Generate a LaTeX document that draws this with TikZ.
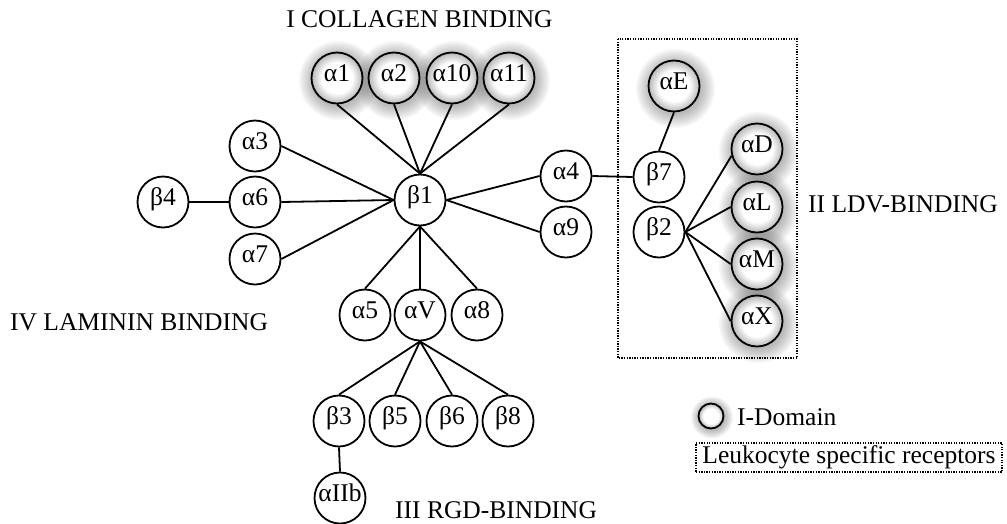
\documentclass[tikz,border=0pt]{standalone}
\usepackage{fontspec}
\setmainfont{Liberation Serif}
\usetikzlibrary{backgrounds}

% soft grey rim inside the I-domain circles
\pgfdeclareradialshading{idomain}{\pgfpoint{0bp}{0bp}}{%
  color(0bp)=(white); color(15bp)=(white); color(25bp)=(black!28); color(50bp)=(black!28)}

\begin{document}
\begin{tikzpicture}[x=1pt,y=-1pt,
  font=\fontsize{25.5}{30}\selectfont,
  integrin/.style={circle,draw,line width=1.8pt,minimum size=51pt,inner sep=0pt,
    fill=white,text height=0.66em,text depth=0pt},
  idom/.style={integrin,shading=idomain},
  link/.style={line width=1.8pt},
  dotbox/.style={line width=1.3pt,dash pattern=on 1.3pt off 1.3pt},
  title/.style={inner sep=0pt,anchor=base west}]
\useasboundingbox (0,0) rectangle (1007,523);

% I-domain (collagen) alpha chains
\node[idom] (a1)  at (337,78) {α1};
\node[idom] (a2)  at (394,78) {α2};
\node[idom] (a10) at (452,78) {α10};
\node[idom] (a11) at (509,78) {α11};

% beta1 and its partners
\node[integrin] (b1) at (420,200) {β1};
\node[integrin] (a3) at (255,146) {α3};
\node[integrin] (a6) at (255,202) {α6};
\node[integrin] (a7) at (255,259) {α7};
\node[integrin] (b4) at (163,202) {β4};
\node[integrin] (a4) at (566,176) {α4};
\node[integrin] (a9) at (566,232) {α9};
\node[integrin] (a5) at (365,315) {α5};
\node[integrin] (aV) at (420,315) {αV};
\node[integrin] (a8) at (477,315) {α8};

% alphaV partners
\node[integrin] (b3) at (339,421) {β3};
\node[integrin] (b5) at (395,421) {β5};
\node[integrin] (b6) at (452,421) {β6};
\node[integrin] (b8) at (508,421) {β8};
\node[integrin] (aIIb) at (340,498) {αIIb};

% leukocyte integrins
\node[integrin] (b7) at (659,177) {β7};
\node[integrin] (b2) at (659,232) {β2};
\node[idom] (aE) at (674,86)  {αE};
\node[idom] (aD) at (757,149) {αD};
\node[idom] (aL) at (757,207) {αL};
\node[idom] (aM) at (757,264) {αM};
\node[idom] (aX) at (757,321) {αX};

% legend
\node[circle,draw,line width=1.8pt,minimum size=25pt,inner sep=0pt,shading=idomain] (key) at (711,416) {};
\node[title] (keytxt) at (737,425) {I-Domain};
\node[dotbox,draw,minimum width=306pt,minimum height=29pt,inner sep=0pt,
  text height=17.5pt,text depth=5.5pt] (leuk) at (849,457.5) {Leukocyte specific receptors};

% group titles
\node[inner sep=0pt,anchor=base] (t1) at (419.5,27) {I COLLAGEN BINDING};
\node[title] (t2) at (808,212) {II LDV-BINDING};
\node[title] (t3) at (395,518) {III RGD-BINDING};
\node[title] (t4) at (10,330) {IV LAMININ BINDING};

% soft shadows around the I-domain circles
\begin{pgfonlayer}{background}
  \foreach \n in {a1,a2,a10,a11,aE,aD,aL,aM,aX}
    \foreach \r in {26,27.5,...,40}
      \fill[black,opacity=0.03] ([shift={(1.5,2.5)}]\n.center) circle (\r pt);
  \foreach \r in {13,14,...,21}
    \fill[black,opacity=0.035] ([shift={(1,1.5)}]key.center) circle (\r pt);
\end{pgfonlayer}

% leukocyte group frame
\draw[dotbox] (618,39) rectangle (797,358);

% connectors
\foreach \n in {a1,a2,a10,a11}
  \draw[link] (b1.north) -- (\n.south);
\foreach \n in {a3,a6,a7}
  \draw[link] (b1.west) -- (\n.east);
\foreach \n in {a4,a9}
  \draw[link] (b1.east) -- (\n.west);
\foreach \n in {a5,aV,a8}
  \draw[link] (b1.south) -- (\n.north);
\foreach \n in {b3,b5,b6,b8}
  \draw[link] (aV.south) -- (\n.north);
\draw[link] (b3.south) -- (aIIb.north);
\draw[link] (a6.west) -- (b4.east);
\draw[link] (a4.east) -- (b7.west);
\draw[link] (b7.north) -- (aE.south);
\draw[link] (b2.east) -- (aD.195);
\foreach \n in {aL,aM,aX}
  \draw[link] (b2.east) -- (\n.west);
\end{tikzpicture}
\end{document}
